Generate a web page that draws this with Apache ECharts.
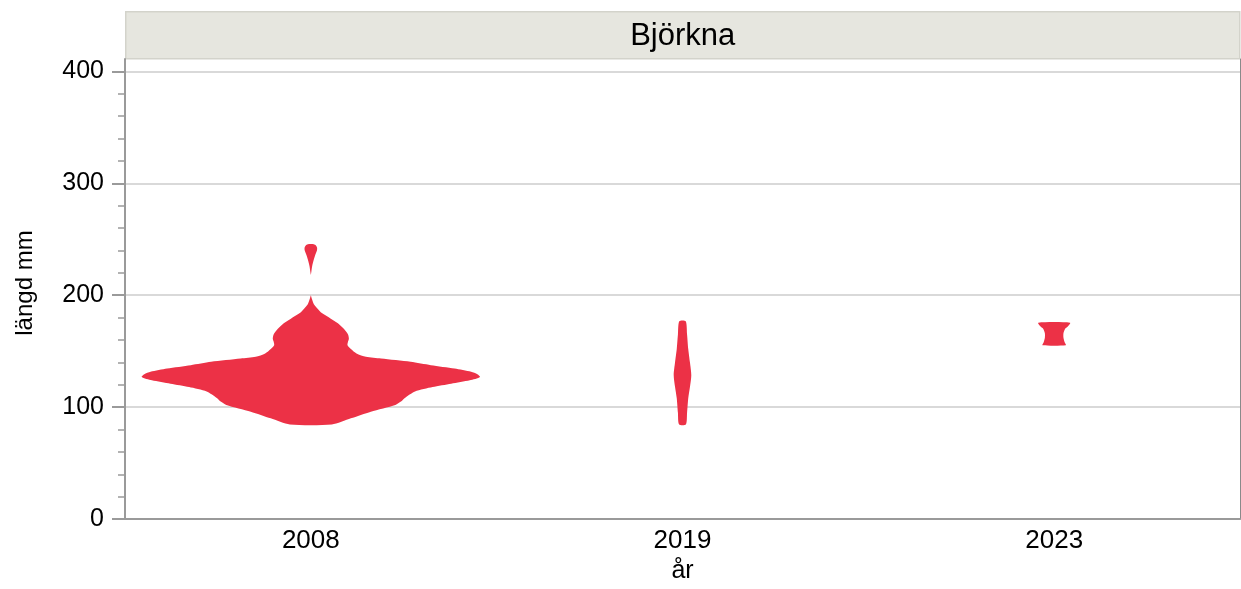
<!DOCTYPE html>
<html>
<head>
<meta charset="utf-8">
<title>Björkna</title>
<script src="https://cdn.jsdelivr.net/npm/echarts@6/dist/echarts.min.js"></script>
<style>
  html, body { margin: 0; padding: 0; background: #fff; }
  #chart { width: 1241px; height: 589px; }
</style>
</head>
<body>
<div id="chart"></div>
<script>
// kategorier (år)
var years = ['2008', '2019', '2023']

// y-axelns skala
var yMajorTicks = [0, 100, 200, 300, 400]
var yMinorTicks = [20, 40, 60, 80, 120, 140, 160, 180, 220, 240, 260, 280, 320, 340, 360, 380]

// violiner: [längd mm, relativ täthet]
var dens2008 = [
  [84.5, 0.124], [90, 0.237], [96, 0.355], [102, 0.50], [105, 0.533], [108, 0.554],
  [114, 0.616], [118, 0.72], [121, 0.83], [124, 0.94], [127, 1.0], [129.5, 0.985], [131.6, 0.948],
  [134.5, 0.85], [137.5, 0.71], [140.5, 0.59], [143.4, 0.415], [145, 0.326], [148, 0.27],
  [152, 0.237], [155.3, 0.217], [158, 0.219], [161, 0.225], [165, 0.22], [170, 0.195],
  [175, 0.16], [179, 0.118], [184, 0.065], [188, 0.04], [192, 0.018], [196.9, 0.006], [200, 0]
]
var dens2008Top = [
  [218, 0], [221, 0.003], [226, 0.008], [231, 0.016], [236, 0.026], [240, 0.036],
  [242.5, 0.037], [244.5, 0.03], [245.5, 0.018]
]
var dens2019 = [
  [84.6, 0.02], [95, 0.027], [108, 0.034], [118, 0.044], [128.6, 0.052],
  [140, 0.044], [152, 0.034], [165, 0.027], [176.7, 0.019]
]
var dens2023 = [
  [155.3, 0.069], [158, 0.062], [162, 0.055], [166, 0.055], [170, 0.065], [172.5, 0.083], [175.5, 0.094]
]

// en violin per rad: [kategoriindex, profil]
var violins = [
  [0, dens2008],
  [0, dens2008Top],
  [1, dens2019],
  [2, dens2023]
]

var violinColor = '#ec3146'
var font = 'Liberation Sans, Arial, Helvetica, sans-serif'

var chart = echarts.init(document.getElementById('chart'))

function renderViolin(params, api) {
  var item = violins[params.dataIndex]
  var cat = item[0]
  var prof = item[1]
  var halfBand = api.size([1, 0])[0] / 2
  var right = []
  var left = []
  prof.forEach(function (p) {
    var c = api.coord([cat, p[0]])
    var w = p[1] * halfBand * 0.91
    right.push([c[0] + w, c[1]])
    left.unshift([c[0] - w, c[1]])
  })
  return {
    type: 'polygon',
    shape: { points: right.concat(left), smooth: 0.25 },
    style: { fill: violinColor, stroke: null }
  }
}

var yMax = 411

chart.setOption({
  animation: false,
  textStyle: { fontFamily: font },
  graphic: [{
    type: 'group',
    left: 125,
    top: 11,
    children: [{
      type: 'rect',
      shape: { x: 0, y: 0, width: 1114, height: 47 },
      style: { fill: '#e6e6df', stroke: '#d3d3cb', lineWidth: 1.5 }
    }, {
      type: 'text',
      x: 557,
      y: 25,
      style: {
        text: 'Björkna',
        font: '31px ' + font,
        fill: '#000',
        align: 'center',
        verticalAlign: 'middle'
      }
    }]
  }],
  grid: { left: 125, right: 1, top: 59, bottom: 68 },
  xAxis: {
    type: 'category',
    data: years,
    name: 'år',
    nameLocation: 'middle',
    nameGap: 38,
    nameTextStyle: { fontSize: 25, color: '#000', fontFamily: font },
    axisLine: { lineStyle: { color: '#9a9a9a', width: 2 } },
    axisTick: { show: false },
    axisLabel: { fontSize: 26, color: '#000', margin: 9, fontFamily: font },
    splitLine: { show: false }
  },
  yAxis: [{
    type: 'value',
    min: 0,
    max: yMax,
    interval: 100,
    name: 'längd mm',
    nameLocation: 'middle',
    nameGap: 88,
    nameTextStyle: { fontSize: 24, color: '#000', fontFamily: font, padding: [0, 0, 0, 12] },
    axisLine: { show: true, lineStyle: { color: '#9a9a9a', width: 2 } },
    axisTick: { show: true, length: 13, customValues: yMajorTicks, lineStyle: { color: '#9a9a9a', width: 2 } },
    axisLabel: { fontSize: 25, color: '#000', margin: 21, customValues: yMajorTicks, fontFamily: font },
    splitLine: { show: true, lineStyle: { color: '#d9d9d9', width: 2 } }
  }, {
    type: 'value',
    min: 0,
    max: yMax,
    position: 'left',
    axisLine: { show: false },
    axisTick: { show: true, length: 7, customValues: yMinorTicks, lineStyle: { color: '#9a9a9a', width: 1.5 } },
    axisLabel: { show: false },
    splitLine: { show: false }
  }, {
    type: 'value',
    min: 0,
    max: yMax,
    position: 'right',
    axisLine: { show: true, lineStyle: { color: '#8a8a8a', width: 1 } },
    axisTick: { show: false },
    axisLabel: { show: false },
    splitLine: { show: false }
  }],
  series: [{
    type: 'custom',
    renderItem: renderViolin,
    data: violins.map(function (v) { return [v[0], v[1][0][0], v[1][v[1].length - 1][0]] }),
    encode: { x: 0, y: [1, 2] },
    silent: true
  }]
})
</script>
</body>
</html>
